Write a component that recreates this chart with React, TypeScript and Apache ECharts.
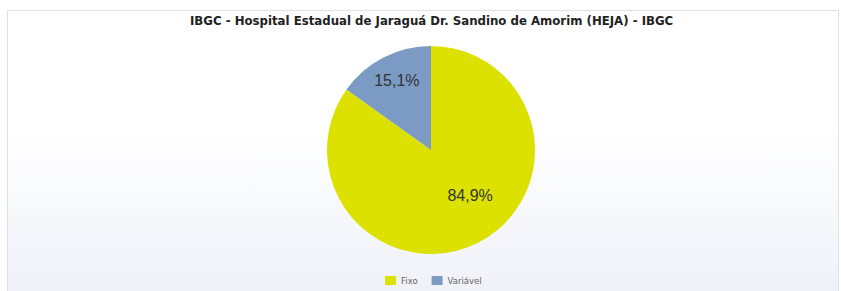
import React, { useEffect, useRef } from "react";
import * as echarts from "echarts";

const titleText = "IBGC - Hospital Estadual de Jaraguá Dr. Sandino de Amorim (HEJA) - IBGC";
const categories = ["Fixo", "Variável"];
const values = [84.9, 15.1];
const colors = ["#dce100", "#7b9bc4"];

export default function App() {
  const ref = useRef<HTMLDivElement>(null);
  useEffect(() => {
    document.body.style.margin = "0";
    const chart = echarts.init(ref.current!, null, { renderer: "svg" });
    const labelNudge = [
      { dx: 14, dy: -3 },
      { dx: -9, dy: -21 },
    ];
    chart.setOption({
      animation: false,
      backgroundColor: "transparent",
      title: {
        text: titleText,
        left: 190,
        top: 15,
        textStyle: { fontFamily: "DejaVu Sans", fontSize: 11.75, fontWeight: "bold", color: "#222" },
        padding: 0,
      },
      legend: {
        data: categories,
        bottom: 1,
        left: 380,
        itemWidth: 11,
        itemHeight: 9,
        itemGap: 14,
        icon: "rect",
        textStyle: { fontFamily: "DejaVu Sans", fontSize: 8.5, color: "#666" },
      },
      series: [
        {
          type: "pie",
          center: [431, 150],
          radius: 104,
          startAngle: 90,
          clockwise: true,
          color: colors,
          data: categories.map((c, i) => ({ name: c, value: values[i] })),
          label: {
            position: "inside",
            formatter: (p: any) => p.value.toFixed(1).replace(".", ",") + "%",
            fontFamily: "Liberation Sans",
            fontSize: 16,
            color: "#333",
          },
          labelLayout: (p: any) => labelNudge[p.dataIndex],
          labelLine: { show: false },
          itemStyle: { borderWidth: 0 },
          emphasis: { disabled: true },
        },
      ],
    });
    return () => chart.dispose();
  }, []);
  return (
    <div style={{ position: "fixed", left: 0, top: 0, width: 841, height: 291, background: "#fff", overflow: "hidden" }}>
      <div
        style={{
          position: "absolute",
          left: 7,
          top: 10,
          width: 830,
          height: 300,
          border: "1px solid #e2e2e2",
          background: "linear-gradient(#ffffff 0%, #ffffff 40%, #eef0f8 100%)",
        }}
      />
      <div ref={ref} style={{ position: "absolute", left: 0, top: 0, width: 841, height: 291 }} />
    </div>
  );
}
